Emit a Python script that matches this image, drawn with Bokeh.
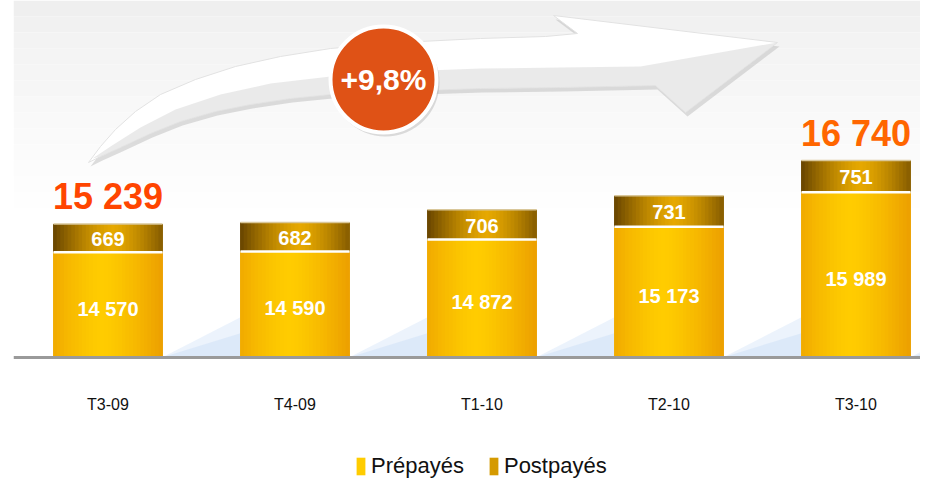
import numpy as np
from bokeh.plotting import figure
from bokeh.models import (ColumnDataSource, Range1d, LinearAxis, FixedTicker,
                          Legend, LegendItem)
from bokeh.core.properties import value
from bokeh.embed import file_html
from bokeh.resources import INLINE

# ---------------- data ----------------
CATEGORIES = ["T3-09", "T4-09", "T1-10", "T2-10", "T3-10"]
PREPAYES = [14570, 14590, 14872, 15173, 15989]
POSTPAYES = [669, 682, 706, 731, 751]
SERIES_NAMES = ["Prépayés", "Postpayés"]
GROWTH_LABEL = "+9,8%"
HIGHLIGHT_IDX = [0, 4]          # bars whose total is shown above
Y_BASE = 12088                  # value at the baseline (axis does not start at 0)


def fmt(v):
    return f"{v:,}".replace(",", " ")


TOTALS = [a + b for a, b in zip(PREPAYES, POSTPAYES)]

# ---------------- layout ----------------
W, H = 920, 482
LEFT = 13
CAT_PX = 187.0
K = 0.04228                      # px per unit
BASE_FIG_Y = 356.7               # baseline, figure px from top
X_START = -(107.5 - LEFT) / CAT_PX
X_END = X_START + (W - LEFT) / CAT_PX
Y_END = Y_BASE + BASE_FIG_Y / K
Y_START = Y_BASE - (H - BASE_FIG_Y) / K
BAR_W = 0.583

SANS = value("Liberation Sans")


def dx(px):   # figure px -> data x (decorations only)
    return X_START + (px - LEFT) / CAT_PX


def dy(py):   # figure px -> data y (decorations only)
    return Y_END - py / K


def hex2rgb(h):
    h = h.lstrip("#")
    return np.array([int(h[i:i + 2], 16) for i in (0, 2, 4)], dtype=float)


def lerp_col(c1, c2, f):
    c = hex2rgb(c1) * (1 - f) + hex2rgb(c2) * f
    return "#%02x%02x%02x" % tuple(int(round(v)) for v in c)


p = figure(width=W, height=H, x_range=Range1d(X_START, X_END),
           y_range=Range1d(Y_START, Y_END), x_axis_type=None, y_axis_type=None,
           min_border_left=LEFT, min_border_right=0, min_border_top=0,
           min_border_bottom=0, outline_line_color=None, toolbar_location=None,
           output_backend="svg", background_fill_color="white",
           border_fill_color="white")

# ---- background: light gray fade at the top ----
NB = 14
band_top, band_bot, band_col = [], [], []
for i in range(NB):
    t0 = i * 16
    band_top.append(dy(t0))
    band_bot.append(dy(t0 + 16))
    band_col.append(lerp_col("#EFEFEF", "#FFFFFF", (i / (NB - 1)) ** 0.8))
p.quad(left=X_START, right=X_END, top=band_top, bottom=band_bot,
       fill_color=band_col, line_color=None)

# ---- light blue reflections beside bars ----
for h_px, a in ((40, 0.35), (24, 0.45)):
    xs, ys = [], []
    for i in range(len(CATEGORIES)):
        xr = i + BAR_W / 2
        xn = (i + 1) - BAR_W / 2
        xs.append([xr, xn, xn])
        ys.append([Y_BASE, Y_BASE, Y_BASE + h_px / K])
    p.patches(xs, ys, fill_color="#C9DEF7", fill_alpha=a, line_color=None)

# ---- curved arrow ----
ARROW = [(88, 162), (100, 146), (115, 129), (135, 111), (160, 94), (195, 79),
         (235, 66), (280, 56), (330, 48), (400, 42), (480, 38), (545, 36),
         (577, 33), (553, 15), (777, 42), (685, 112), (655, 85), (560, 87),
         (480, 88), (420, 90), (330, 94), (290, 98), (250, 104), (215, 111),
         (180, 121), (150, 133), (120, 147), (100, 156)]
SHADE = [(92, 158), (110, 146), (140, 127), (175, 109), (220, 94), (270, 83),
         (330, 76), (400, 71), (480, 68), (560, 67), (640, 66), (777, 42),
         (685, 112), (655, 85), (560, 87), (480, 88), (420, 90), (330, 94),
         (290, 98), (250, 104), (215, 111), (180, 121), (150, 133),
         (120, 147), (100, 156)]
p.patch([dx(x + 2) for x, y in ARROW], [dy(y + 4) for x, y in ARROW],
        fill_color="#B5B5B5", fill_alpha=0.45, line_color=None)
p.patch([dx(x) for x, y in ARROW], [dy(y) for x, y in ARROW],
        fill_color="#FFFFFF", line_color="#E2E2E2", line_width=1)
p.patch([dx(x) for x, y in SHADE], [dy(y) for x, y in SHADE],
        fill_color="#E3E3E3", fill_alpha=0.75, line_color=None)

# ---- gradient bars (vertical strips) ----
N = 30


def strips(bottoms, tops, peak, c_peak, c_edge):
    xs, ws, bs, ts, cs = [], [], [], [], []
    for i in range(len(bottoms)):
        for j in range(N):
            t = (j + 0.5) / N
            d = abs(t - peak) / max(peak, 1 - peak)
            xs.append(i - BAR_W / 2 + t * BAR_W)
            ws.append(BAR_W / N * 1.25)
            bs.append(bottoms[i])
            ts.append(tops[i])
            cs.append(lerp_col(c_peak, c_edge, d ** 1.4))
    return ColumnDataSource(dict(x=xs, w=ws, b=bs, t=ts, c=cs))


src_pre = strips([Y_BASE] * 5, PREPAYES, 0.45, "#FFCC00", "#EC9F00")
src_post = strips(PREPAYES, TOTALS, 0.55, "#E6A800", "#674400")
r_pre = p.vbar(x="x", width="w", bottom="b", top="t", fill_color="c",
               line_color=None, source=src_pre)
r_post = p.vbar(x="x", width="w", bottom="b", top="t", fill_color="c",
                line_color=None, source=src_post)
# light top edge on postpaid block and white separator
p.segment(x0=[i - BAR_W / 2 for i in range(5)], x1=[i + BAR_W / 2 for i in range(5)],
          y0=TOTALS, y1=TOTALS, line_color="#D9C79A", line_width=1.5)
p.segment(x0=[i - BAR_W / 2 for i in range(5)], x1=[i + BAR_W / 2 for i in range(5)],
          y0=PREPAYES, y1=PREPAYES, line_color="white", line_width=2.5)

# ---- value labels ----
idx = list(range(len(CATEGORIES)))
p.text(x=idx, y=[(Y_BASE + v) / 2 for v in PREPAYES],
       text=[fmt(v) for v in PREPAYES], y_offset=4, text_align="center",
       text_baseline="middle", text_color="white", text_font=SANS,
       text_font_style="bold", text_font_size="20px")
p.text(x=idx, y=[(a + b) / 2 for a, b in zip(PREPAYES, TOTALS)],
       text=[fmt(v) for v in POSTPAYES], y_offset=1, text_align="center",
       text_baseline="middle", text_color="white", text_font=SANS,
       text_font_style="bold", text_font_size="20px")
p.text(x=HIGHLIGHT_IDX, y=[TOTALS[i] for i in HIGHLIGHT_IDX],
       text=[fmt(TOTALS[i]) for i in HIGHLIGHT_IDX], y_offset=-27,
       text_align="center", text_baseline="alphabetic",
       text_color=["#FF4500", "#FF6600"], text_font=SANS,
       text_font_style="bold", text_font_size="36px")

# ---- growth badge ----
p.scatter(x=[dx(385)], y=[dy(82)], size=108, marker="circle",
          fill_color="#9E9E9E", fill_alpha=0.35, line_color=None)
p.scatter(x=[dx(383)], y=[dy(79)], size=106, marker="circle",
          fill_color="#DF5216", line_color="white", line_width=4)
p.text(x=[dx(383)], y=[dy(79)], text=[GROWTH_LABEL], text_align="center",
       text_baseline="middle", text_color="white", text_font=SANS,
       text_font_style="bold", text_font_size="30px")

# ---- category axis on the baseline ----
xaxis = LinearAxis(ticker=FixedTicker(ticks=idx),
                   major_label_overrides={i: c for i, c in enumerate(CATEGORIES)},
                   fixed_location=Y_BASE)
xaxis.axis_line_color = "#9A9A9A"
xaxis.axis_line_width = 3
xaxis.major_tick_line_color = None
xaxis.minor_tick_line_color = None
xaxis.major_label_standoff = 33
xaxis.major_label_text_font = "Liberation Sans"
xaxis.major_label_text_font_size = "16px"
xaxis.major_label_text_color = "#111111"
p.add_layout(xaxis, "below")

# ---- legend ----
legend = Legend(items=[LegendItem(label=SERIES_NAMES[0], renderers=[r_pre], index=13),
                       LegendItem(label=SERIES_NAMES[1], renderers=[r_post], index=12)],
                location=(342, 3), orientation="horizontal", padding=0, margin=0,
                spacing=24, glyph_width=11, glyph_height=22, label_standoff=5,
                label_text_font="Liberation Sans", label_text_font_size="22px",
                label_text_color="#111111", border_line_alpha=0,
                background_fill_alpha=0)
p.add_layout(legend)

open("out.html", "w").write(file_html(p, INLINE))
